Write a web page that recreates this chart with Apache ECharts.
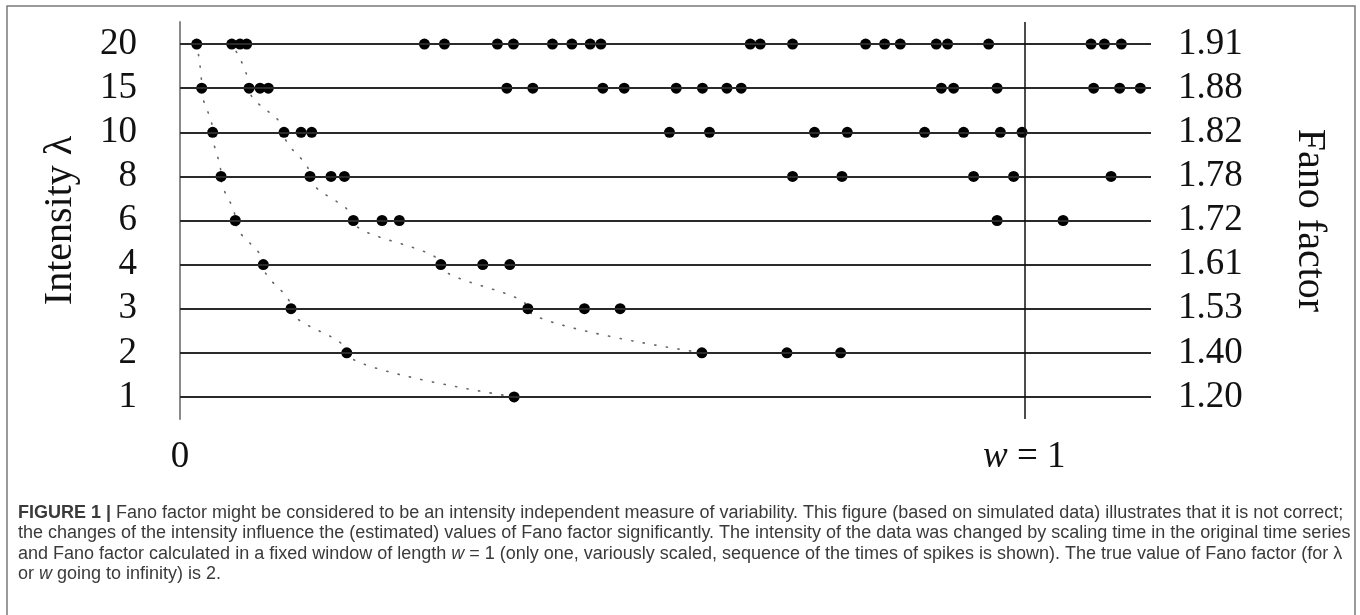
<!DOCTYPE html>
<html>
<head>
<meta charset="utf-8">
<script src="https://cdn.jsdelivr.net/npm/echarts@6.0.0/dist/echarts.min.js"></script>
<style>
html,body{margin:0;padding:0;background:#fff;}
#chart{width:1360px;height:615px;}
</style>
</head>
<body>
<div id="chart"></div>
<script>
// Rows (intensity λ), bottom to top, and Fano factor labels on the right
const intensities = ['1', '2', '3', '4', '6', '8', '10', '15', '20'];
const fanoLabels = ['1.20', '1.40', '1.53', '1.61', '1.72', '1.78', '1.82', '1.88', '1.91'];

// Spike times (in window units, w = 1), per intensity
const spikes1 = [0.3957];
const spikes2 = [0.1975, 0.6181, 0.7188, 0.7824];
const spikes3 = [0.1315, 0.4120, 0.4790, 0.5213];
const spikes4 = [0.0987, 0.3089, 0.3586, 0.3906];
const spikes6 = [0.0655, 0.2053, 0.2393, 0.2598, 0.9677, 1.0459];
const spikes8 = [0.0486, 0.1540, 0.1789, 0.1947, 0.7255, 0.7840, 0.9399, 0.9873, 1.1027];
const spikes10 = [0.0387, 0.1232, 0.1434, 0.1560, 0.5797, 0.6271, 0.7515, 0.7903, 0.8819, 0.9281, 0.9716, 0.9973];
const spikes15 = [0.0257, 0.0818, 0.0948, 0.1046, 0.3871, 0.4179, 0.5008, 0.5261, 0.5877, 0.6188, 0.6477, 0.6647, 0.9017, 0.9162, 0.9677, 1.0821, 1.1129, 1.1374];
const spikes20 = [0.0198, 0.0613, 0.0711, 0.0790, 0.2895, 0.3132, 0.3759, 0.3949, 0.4411, 0.4641, 0.4858, 0.4985, 0.6754, 0.6872, 0.7255, 0.8120, 0.8345, 0.8531, 0.8957, 0.9091, 0.9577, 1.0790, 1.0948, 1.1149];

const spikesByRow = {
  '1': spikes1, '2': spikes2, '3': spikes3, '4': spikes4, '6': spikes6,
  '8': spikes8, '10': spikes10, '15': spikes15, '20': spikes20
};

const captionLines = [
  '{b|FIGURE 1 |} Fano factor might be considered to be an intensity independent measure of variability. This figure (based on simulated data) illustrates that it is not correct;',
  'the changes of the intensity influence the (estimated) values of Fano factor significantly. The intensity of the data was changed by scaling time in the original time series',
  'and Fano factor calculated in a fixed window of length {i|w} = 1 (only one, variously scaled, sequence of the times of spikes is shown). The true value of Fano factor (for \u03bb',
  'or {i|w} going to infinity) is 2.'
];

const SERIF = '"Liberation Serif", "DejaVu Serif", serif';
const SANS = '"Liberation Sans", Arial, sans-serif';

const scatterData = [];
intensities.forEach(r => spikesByRow[r].forEach(t => scatterData.push([t, r])));

// dotted guides through first and second spike of each row
const curve1 = intensities.map(r => [spikesByRow[r][0], r]);
const curve2 = intensities.filter(r => spikesByRow[r].length > 1).map(r => [spikesByRow[r][1], r]);

const chart = echarts.init(document.getElementById('chart'), null, {renderer: 'canvas'});

const capFont = 18;
const capStyle = {fontFamily: SANS, fontSize: capFont, fill: '#3a3a3a'};
const rich = {
  b: {fontFamily: SANS, fontSize: capFont, fontWeight: 'bold', color: '#222'},
  i: {fontFamily: SANS, fontSize: capFont, fontStyle: 'italic', color: '#3a3a3a'}
};
const captionY = [513, 533, 554, 574];

const option = {
  animation: false,
  backgroundColor: '#fff',
  grid: {left: 180, right: 209, top: 22, bottom: 196, containLabel: false},
  xAxis: {
    type: 'value', min: 0, max: 1.15,
    axisLine: {show: false}, axisTick: {show: false}, splitLine: {show: false},
    axisLabel: {
      customValues: [0, 1],
      margin: 20,
      fontFamily: SERIF, fontSize: 37, color: '#111',
      formatter: v => v === 0 ? '0' : (v === 1 ? '{i|w} = 1' : ''),
      rich: {i: {fontFamily: SERIF, fontSize: 37, fontStyle: 'italic', color: '#111'}}
    }
  },
  yAxis: [
    {
      type: 'category', data: intensities, position: 'left',
      boundaryGap: true,
      axisLine: {show: true, lineStyle: {color: '#8a8a8a', width: 2}},
      axisTick: {show: false}, splitLine: {show: false},
      axisLabel: {interval: 0, margin: 43, fontFamily: SERIF, fontSize: 37, color: '#111'},
      name: 'Intensity \u03bb', nameLocation: 'middle', nameRotate: 90, nameGap: 100,
      nameTextStyle: {fontFamily: SERIF, fontSize: 40, color: '#111'}
    },
    {
      type: 'category', data: fanoLabels, position: 'right',
      boundaryGap: true,
      axisLine: {show: false}, axisTick: {show: false}, splitLine: {show: false},
      axisLabel: {interval: 0, margin: 27, fontFamily: SERIF, fontSize: 37, color: '#111'},
      name: 'Fano factor', nameLocation: 'middle', nameRotate: -90, nameGap: 138,
      nameTextStyle: {fontFamily: SERIF, fontSize: 40, color: '#111'}
    }
  ],
  series: [
    {
      type: 'line', data: [], z: 1, silent: true,
      markLine: {
        silent: true, symbol: ['none', 'none'], animation: false,
        label: {show: false},
        lineStyle: {type: 'solid', color: '#2a2a2a', width: 1.8},
        data: intensities.map(r => ({yAxis: r}))
          .concat([{xAxis: 1, lineStyle: {color: '#111', width: 1.5}}])
      }
    },
    {
      type: 'line', data: curve1, z: 2, smooth: 0.4, smoothMonotone: 'y',
      symbol: 'none', silent: true,
      lineStyle: {color: '#666', width: 1.6, type: [1.2, 10.5], cap: 'round'}
    },
    {
      type: 'line', data: curve2, z: 2, smooth: 0.4, smoothMonotone: 'y',
      symbol: 'none', silent: true,
      lineStyle: {color: '#666', width: 1.6, type: [1.2, 10.5], cap: 'round'}
    },
    {
      type: 'scatter', data: scatterData, z: 3,
      symbol: 'circle', symbolSize: 11,
      itemStyle: {color: '#000', opacity: 1}
    }
  ],
  graphic: [
    {
      type: 'rect', z: 100, silent: true,
      shape: {x: 7, y: 6, width: 1348, height: 640},
      style: {fill: 'none', stroke: '#7a7a7a', lineWidth: 1.5}
    }
  ].concat(captionLines.map((t, i) => ({
    type: 'text', x: 18, y: captionY[i], z: 100, silent: true,
    style: Object.assign({text: t, rich: rich, textVerticalAlign: 'middle', textAlign: 'left'}, capStyle)
  })))
};

chart.setOption(option);
</script>
</body>
</html>
